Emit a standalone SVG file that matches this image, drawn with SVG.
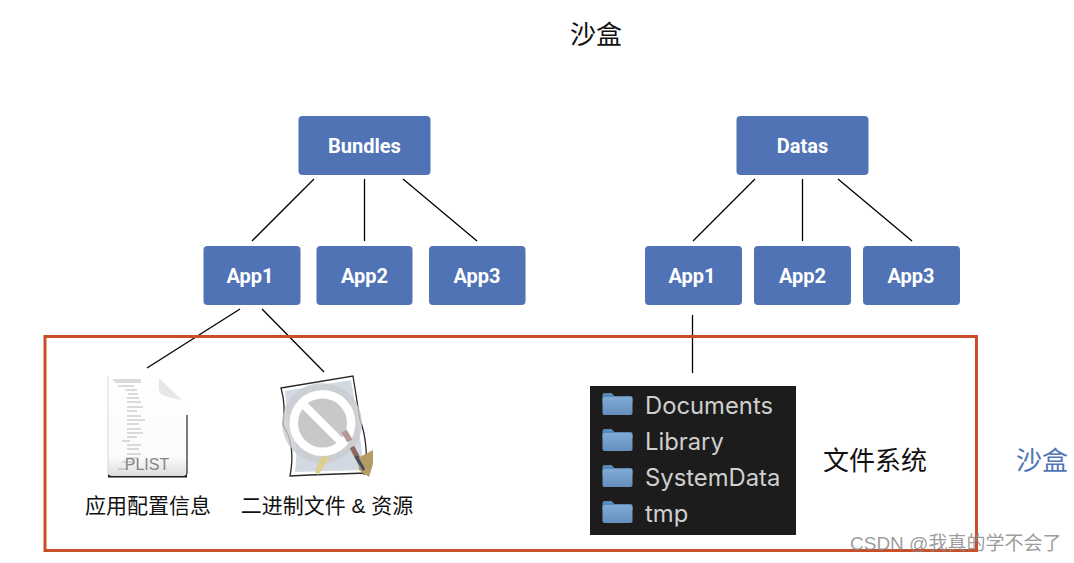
<svg xmlns="http://www.w3.org/2000/svg" width="1074" height="563" viewBox="0 0 1074 563">
<defs>
<style>
text{font-family:"Liberation Sans","Noto Sans CJK SC",sans-serif}
.n rect{fill:#5073b5;stroke:none}
.n text{fill:#fff;font-size:20px;font-weight:700;text-anchor:middle;font-family:Roboto,"Liberation Sans",sans-serif}
.c line{stroke:#000;stroke-width:1.3}
.lb{font-size:21px;fill:#111;text-anchor:middle}
.fn{font-size:23.800px;fill:#cfcfcf;font-family:"Inter","Liberation Sans",sans-serif}
.ft{fill:#5b87b3}
</style>
<linearGradient id="fg" x1="0" y1="0" x2="0" y2="1"><stop offset="0" stop-color="#7fabd6"/><stop offset="1" stop-color="#6590bd"/></linearGradient>
<linearGradient id="pg" x1="0" y1="0" x2="0" y2="1"><stop offset="0" stop-color="#fff"/><stop offset=".8" stop-color="#fbfbfb"/><stop offset="1" stop-color="#dcdcdc"/></linearGradient>
<g id="folder"><path class="ft" d="M0 2a2 2 0 0 1 2-2h7l3 3h16a2 2 0 0 1 2 2v4H0z"/><rect y="4" width="30" height="18" rx="2" fill="url(#fg)"/></g>
</defs>
<rect width="1074" height="563" fill="#fff"/>
<text x="596" y="44" font-size="26" fill="#111" text-anchor="middle">沙盒</text>
<g class="c" id="connectors">
<line x1="314" y1="179" x2="252" y2="241"/><line x1="364.500" y1="179" x2="364.500" y2="241"/><line x1="403" y1="179" x2="477" y2="241"/>
<line x1="755" y1="179" x2="693" y2="241"/><line x1="802.500" y1="179" x2="802.500" y2="241"/><line x1="838" y1="179" x2="912" y2="241"/>
<line x1="240" y1="309" x2="147" y2="368"/><line x1="262" y1="309" x2="324" y2="372"/><line x1="692.500" y1="315" x2="692.500" y2="373"/>
</g>
<rect id="sandbox" x="45" y="336.500" width="931.500" height="214" fill="none" stroke="#c94f28" stroke-width="3"/>
<g class="n" id="bundles"><rect x="298.500" y="116" width="132" height="59" rx="4"/><text x="364.500" y="152.500">Bundles</text></g>
<g class="n" id="b-app1"><rect x="203.500" y="246" width="97" height="59" rx="4"/><text x="250" y="283">App1</text></g>
<g class="n" id="b-app2"><rect x="316.500" y="246" width="96" height="59" rx="4"/><text x="364.500" y="283">App2</text></g>
<g class="n" id="b-app3"><rect x="429" y="246" width="96.500" height="59" rx="4"/><text x="477" y="283">App3</text></g>
<g class="n" id="datas"><rect x="736.500" y="116" width="132" height="59" rx="4"/><text x="802.500" y="152.500">Datas</text></g>
<g class="n" id="d-app1"><rect x="645" y="246" width="97" height="59" rx="4"/><text x="692" y="283">App1</text></g>
<g class="n" id="d-app2"><rect x="754" y="246" width="97" height="59" rx="4"/><text x="802.500" y="283">App2</text></g>
<g class="n" id="d-app3"><rect x="863" y="246" width="97" height="59" rx="4"/><text x="911" y="283">App3</text></g>
<g id="plist">
<path d="M108 376H152Q158 376 162 380L182 400Q187 405 187 415V476Q187 477 185 477H110Q108 477 108 475Z" fill="url(#pg)"/>
<path d="M108 474Q109 476 112 476H184Q186 476 187 473V477.500H108Z" fill="#1a1a1a"/>
<path d="M187 415V474" stroke="#333" stroke-width="1.300" fill="none"/>
<path d="M108 376V475" stroke="#ccc" stroke-width=".8" fill="none"/>
<path d="M159 378Q158 391 160 393Q164 397 182 400Z" fill="#e6e6e6"/>
<path d="M113 380h28M115 382h26M118 386h16M125 390h12M128 394h10M127 398h12M127 402h14M127 407h16M127 411h10M127 416h14M127 420h18M127 424h12M127 429h14M127 433h16M127 437h10M122 441h8M127 445h14M127 449h12M127 454h14M127 458h10M122 462h12M118 469h10" stroke="#9a9a9a" stroke-width=".7" fill="none"/>
<text x="147" y="469.500" font-size="16" fill="#858585" text-anchor="middle">PLIST</text>
<text class="lb" x="148" y="513">应用配置信息</text>
</g>
<g id="binary">
<path d="M281 388L353 376L360 420Q368 440 366 473L310 475L290 476Q296 445 283 425Q286 405 281 388Z" fill="#fff" stroke="#2a2a2a" stroke-width="1.300"/>
<path d="M285 391L351 380L358 421L364 470L295 472Q299 440 288 425Z" fill="#d3d9e2"/>
<circle cx="322" cy="423" r="40" fill="#c9ccd0" fill-opacity=".8"/>
<circle cx="322.500" cy="423" r="33" fill="#fff"/>
<circle cx="322.500" cy="423" r="24.500" fill="#c6c8ca"/>
<path d="M304 405L341 442" stroke="#fff" stroke-width="8"/>
<path d="M344 431L350 441" stroke="#b49a94" stroke-width="6"/>
<path d="M352 447L366 474" stroke="#8d6a5a" stroke-width="5"/>
<path d="M358 458L373 450V464L369 477L359 470Z" fill="#b59c63"/>
<path d="M356 456L364 470" stroke="#3d4f66" stroke-width="3"/>
<path d="M330 458L318 475L315 472Q318 462 322 456Z" fill="#dccf93"/>
<text class="lb" x="327" y="513">二进制文件 &amp; 资源</text>
</g>
<g id="filesystem">
<rect x="590" y="386" width="206" height="149" fill="#1c1c1c"/>
<use href="#folder" x="602.500" y="393"/><use href="#folder" x="602.500" y="429"/><use href="#folder" x="602.500" y="465"/><use href="#folder" x="602.500" y="501"/>
<text class="fn" x="645" y="414">Documents</text>
<text class="fn" x="645" y="450">Library</text>
<text class="fn" x="645" y="486">SystemData</text>
<text class="fn" x="645" y="522">tmp</text>
</g>
<text x="875" y="470" font-size="26" fill="#111" text-anchor="middle">文件系统</text>
<text x="1042" y="470" font-size="26" fill="#4f75b8" text-anchor="middle">沙盒</text>
<text x="850" y="550" font-size="19" fill="#8a8a8a" fill-opacity=".85">CSDN @我真的学不会了</text>
</svg>
